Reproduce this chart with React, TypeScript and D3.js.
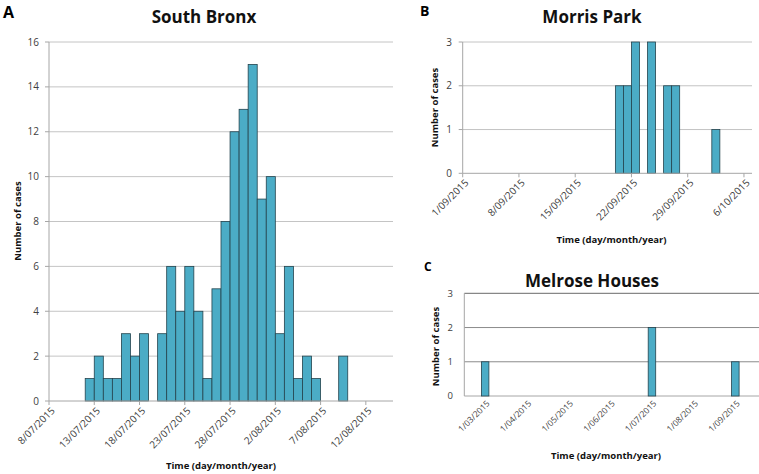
import React from "react";
import * as d3 from "d3";

// ---------- Data ----------
// Panel A: South Bronx, daily cases starting 12/07/2015
const bronxStart = [2015, 6, 12];
const bronxCounts = [1, 2, 1, 1, 3, 2, 3, 0, 3, 6, 4, 6, 4, 1, 5, 8, 12, 13, 15, 9, 10, 3, 6, 1, 2, 1, 0, 0, 2];
const bronxYTicks = [0, 2, 4, 6, 8, 10, 12, 14, 16];

// Panel B: Morris Park, daily cases starting 20/09/2015
const morrisStart = [2015, 8, 20];
const morrisCounts = [2, 2, 3, 0, 3, 0, 2, 2, 0, 0, 0, 0, 1];
const morrisYTicks = [0, 1, 2, 3];

// Panel C: Melrose Houses, monthly cases
const melroseMonths = ["1/03/2015", "1/04/2015", "1/05/2015", "1/06/2015", "1/07/2015", "1/08/2015", "1/09/2015"];
const melroseCounts = [1, 0, 0, 0, 2, 0, 1];
const melroseYTicks = [0, 1, 2, 3];

const FONT = "'Open Sans', 'DejaVu Sans', sans-serif";
const BAR_FILL = "#4BACC6";
const BAR_STROKE = "#24434d";
const GRID = "#c4c4c4";
const AXIS = "#a6a6a6";
const TEXT = "#404040";

const fmt = d3.timeFormat("%-d/%m/%Y");

function PanelA() {
  const x0 = new Date(2015, 6, 8);
  const x1 = new Date(2015, 7, 15);
  const x = d3.scaleTime().domain([x0, x1]).range([49, 393]);
  const y = d3.scaleLinear().domain([0, 16]).range([401, 42]);
  const xt = d3.timeDay.range(x0, x1).filter((_, i) => i % 5 === 0);
  const start = new Date(bronxStart[0], bronxStart[1], bronxStart[2]);
  const bars = bronxCounts.map((v, i) => ({ d: d3.timeDay.offset(start, i), v }));
  return (
    <g>
      <text x={3} y={18} fontSize={16} fontWeight="bold" fontFamily={FONT} fill="#000">A</text>
      <text x={204} y={23} fontSize={17} fontWeight="bold" fontFamily={FONT} textAnchor="middle" fill="#111">South Bronx</text>
      {bronxYTicks.map((t) => (
        <g key={t}>
          {t > 0 && <line x1={49} x2={393} y1={y(t)} y2={y(t)} stroke={GRID} strokeWidth={1} />}
          <line x1={45} x2={49} y1={y(t)} y2={y(t)} stroke={AXIS} />
          <text x={39} y={y(t)} dy="0.35em" textAnchor="end" fontSize={10} fontFamily={FONT} fill={TEXT}>{t}</text>
        </g>
      ))}
      {bars.filter((b) => b.v > 0).map((b, i) => (
        <rect key={i} x={x(b.d)} y={y(b.v)} width={x(d3.timeDay.offset(b.d, 1)) - x(b.d)} height={y(0) - y(b.v)}
          fill={BAR_FILL} stroke={BAR_STROKE} strokeWidth={0.8} />
      ))}
      <line x1={49} x2={49} y1={42} y2={401} stroke={AXIS} />
      <line x1={49} x2={393} y1={401} y2={401} stroke={AXIS} />
      {xt.map((d, i) => (
        <g key={i}>
          <line x1={x(d)} x2={x(d)} y1={401} y2={405} stroke={AXIS} />
          <text transform={`translate(${x(d) + 4},${409}) rotate(-45)`} textAnchor="end" dy="0.35em" fontSize={10} fontFamily={FONT} fill={TEXT}>{fmt(d)}</text>
        </g>
      ))}
      <text transform={`translate(21,221) rotate(-90)`} textAnchor="middle" fontSize={9.5} fontWeight="bold" fontFamily={FONT} fill="#111">Number of cases</text>
      <text x={221} y={469} textAnchor="middle" fontSize={9.5} fontWeight="bold" fontFamily={FONT} fill="#111">Time (day/month/year)</text>
    </g>
  );
}

function PanelB() {
  const x0 = new Date(2015, 8, 1);
  const x1 = new Date(2015, 9, 7);
  const x = d3.scaleTime().domain([x0, x1]).range([462.7, 752]);
  const y = d3.scaleLinear().domain([0, 3]).range([173.3, 42]);
  const xt = d3.timeDay.range(x0, x1).filter((_, i) => i % 7 === 0);
  const start = new Date(morrisStart[0], morrisStart[1], morrisStart[2]);
  const bars = morrisCounts.map((v, i) => ({ d: d3.timeDay.offset(start, i), v }));
  return (
    <g>
      <text x={420} y={16} fontSize={14} fontWeight="bold" fontFamily={FONT} fill="#000">B</text>
      <text x={592} y={23} fontSize={17} fontWeight="bold" fontFamily={FONT} textAnchor="middle" fill="#111">Morris Park</text>
      {morrisYTicks.map((t) => (
        <g key={t}>
          {t > 0 && <line x1={462.7} x2={752} y1={y(t)} y2={y(t)} stroke={GRID} />}
          <line x1={458.7} x2={462.7} y1={y(t)} y2={y(t)} stroke={AXIS} />
          <text x={452} y={y(t)} dy="0.35em" textAnchor="end" fontSize={10} fontFamily={FONT} fill={TEXT}>{t}</text>
        </g>
      ))}
      {bars.filter((b) => b.v > 0).map((b, i) => (
        <rect key={i} x={x(b.d)} y={y(b.v)} width={x(d3.timeDay.offset(b.d, 1)) - x(b.d)} height={y(0) - y(b.v)}
          fill={BAR_FILL} stroke={BAR_STROKE} strokeWidth={0.8} />
      ))}
      <line x1={462.7} x2={462.7} y1={42} y2={173.3} stroke={AXIS} />
      <line x1={462.7} x2={752} y1={173.3} y2={173.3} stroke={AXIS} />
      {xt.map((d, i) => (
        <g key={i}>
          <line x1={x(d)} x2={x(d)} y1={173.3} y2={177.3} stroke={AXIS} />
          <text transform={`translate(${x(d) + 4},${181}) rotate(-45)`} textAnchor="end" dy="0.35em" fontSize={10} fontFamily={FONT} fill={TEXT}>{fmt(d)}</text>
        </g>
      ))}
      <text transform={`translate(438,107.5) rotate(-90)`} textAnchor="middle" fontSize={9.5} fontWeight="bold" fontFamily={FONT} fill="#111">Number of cases</text>
      <text x={611.5} y={243} textAnchor="middle" fontSize={9.5} fontWeight="bold" fontFamily={FONT} fill="#111">Time (day/month/year)</text>
    </g>
  );
}

function PanelC() {
  const x = d3.scaleBand<string>().domain(melroseMonths).range([464.3, 756.2]).padding(0);
  const y = d3.scaleLinear().domain([0, 3]).range([396, 293.3]);
  const bw = x.bandwidth() * 0.18;
  const gridColor = (t: number) => (t === 3 ? "#6a6a6a" : t === 0 ? "#a6a6a6" : "#8c8c8c");
  return (
    <g>
      <text x={424} y={271} fontSize={12} fontWeight="bold" fontFamily={FONT} fill="#000">C</text>
      <text x={592} y={287} fontSize={17} fontWeight="bold" fontFamily={FONT} textAnchor="middle" fill="#111">Melrose Houses</text>
      {melroseYTicks.map((t) => (
        <g key={t}>
          <line x1={464.3} x2={759} y1={y(t)} y2={y(t)} stroke={gridColor(t)} />
          <text x={453} y={y(t)} dy="0.35em" textAnchor="end" fontSize={9.5} fontFamily={FONT} fill={TEXT}>{t}</text>
        </g>
      ))}
      <line x1={464.3} x2={464.3} y1={293.3} y2={396} stroke={AXIS} />
      {melroseMonths.map((m, i) => melroseCounts[i] > 0 ? (
        <rect key={m} x={x(m)! + x.bandwidth() / 2 - bw / 2} y={y(melroseCounts[i])} width={bw} height={y(0) - y(melroseCounts[i])}
          fill={BAR_FILL} stroke={BAR_STROKE} strokeWidth={0.8} />
      ) : null)}
      {melroseMonths.map((m) => (
        <text key={m} transform={`translate(${x(m)! + x.bandwidth() / 2 + 3},${402}) rotate(-45)`} textAnchor="end" dy="0.35em" fontSize={8.5} fontFamily={FONT} fill={TEXT}>{m}</text>
      ))}
      <text transform={`translate(438.5,346.5) rotate(-90)`} textAnchor="middle" fontSize={9.5} fontWeight="bold" fontFamily={FONT} fill="#111">Number of cases</text>
      <text x={606} y={459} textAnchor="middle" fontSize={9.5} fontWeight="bold" fontFamily={FONT} fill="#111">Time (day/month/year)</text>
    </g>
  );
}

export default function App() {
  return (
    <svg width={759} height={474} style={{ position: "absolute", left: 0, top: 0, background: "#fff" }}>
      <rect x={0} y={0} width={759} height={474} fill="#fff" />
      <PanelA />
      <PanelB />
      <PanelC />
    </svg>
  );
}
